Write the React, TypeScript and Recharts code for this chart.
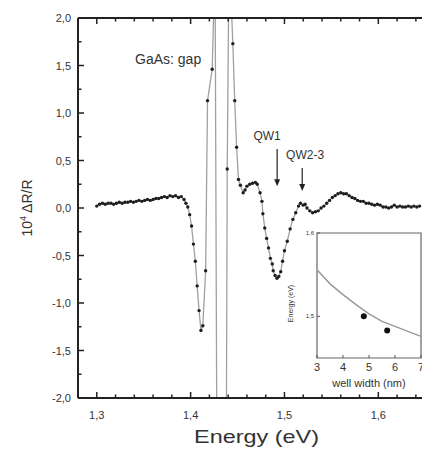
import { ComposedChart, Line, Scatter, XAxis, YAxis, ReferenceLine, ReferenceDot, ReferenceArea } from 'recharts';

// photoreflectance spectrum (energy in eV, 10^4 dR/R)
const energy = [
    1.300, 1.303, 1.306, 1.309, 1.312, 1.315, 1.318, 1.321, 1.324, 1.327,
    1.330, 1.333, 1.336, 1.339, 1.342, 1.345, 1.348, 1.351, 1.354, 1.357,
    1.360, 1.363, 1.366, 1.369, 1.372, 1.375, 1.378, 1.381, 1.384, 1.387,
    1.390, 1.393, 1.395, 1.397, 1.399, 1.401, 1.403, 1.405, 1.407, 1.409,
    1.411, 1.413, 1.416, 1.418, 1.423, 1.426, 1.428, 1.438, 1.439, 1.441,
    1.445, 1.447, 1.449, 1.451, 1.453, 1.456, 1.458, 1.460, 1.463, 1.466,
    1.469, 1.471, 1.474, 1.476, 1.477, 1.479, 1.481, 1.483, 1.485, 1.487,
    1.488, 1.490, 1.492, 1.494, 1.496, 1.498, 1.500, 1.503, 1.506, 1.509,
    1.512, 1.515, 1.517, 1.520, 1.522, 1.524, 1.527, 1.530, 1.533, 1.536,
    1.539, 1.542, 1.545, 1.548, 1.551, 1.554, 1.557, 1.560, 1.563, 1.566,
    1.569, 1.572, 1.575, 1.578, 1.581, 1.584, 1.587, 1.590, 1.593, 1.596,
    1.599, 1.602, 1.605, 1.608, 1.611, 1.614, 1.617, 1.620, 1.623, 1.626,
    1.629, 1.632, 1.635, 1.638, 1.641, 1.644,
];
const signal = [
    0.02, 0.04, 0.05, 0.04, 0.05, 0.05, 0.04, 0.05, 0.06, 0.05,
    0.06, 0.06, 0.07, 0.06, 0.07, 0.08, 0.07, 0.08, 0.09, 0.08,
    0.09, 0.10, 0.10, 0.11, 0.12, 0.11, 0.13, 0.12, 0.13, 0.11,
    0.12, 0.09, 0.05, 0.01, -0.07, -0.19, -0.38, -0.56, -0.82, -1.08,
    -1.29, -1.24, -0.66, 1.13, 1.46, 2.6, -2.6, -2.6, 0.41, 2.7,
    1.73, 1.13, 0.64, 0.30, 0.24, 0.16, 0.19, 0.23, 0.25, 0.26,
    0.27, 0.25, 0.16, 0.07, -0.06, -0.21, -0.32, -0.42, -0.53, -0.59,
    -0.66, -0.71, -0.74, -0.72, -0.67, -0.56, -0.45, -0.35, -0.22, -0.12,
    -0.05, 0.02, 0.05, 0.03, 0.04, 0.00, -0.03, -0.05, -0.04, -0.03,
    0.00, 0.02, 0.05, 0.08, 0.11, 0.13, 0.15, 0.16, 0.15, 0.15,
    0.13, 0.11, 0.10, 0.08, 0.07, 0.07, 0.05, 0.05, 0.04, 0.03,
    0.04, 0.03, 0.01, 0.01, 0.00, 0.01, 0.03, 0.01, 0.02, 0.01,
    0.01, 0.02, 0.01, 0.02, 0.01, 0.02,
];

const xTicks = [1.30, 1.32, 1.34, 1.36, 1.38, 1.40, 1.42, 1.44, 1.46, 1.48, 1.50, 1.52, 1.54, 1.56, 1.58, 1.60, 1.62, 1.64];
const xMajor = [1.3, 1.4, 1.5, 1.6];
const yTicks = [-2, -1.75, -1.5, -1.25, -1, -0.75, -0.5, -0.25, 0, 0.25, 0.5, 0.75, 1, 1.25, 1.5, 1.75, 2];
const yMajor = [-2, -1.5, -1, -0.5, 0, 0.5, 1, 1.5, 2];
const xRange = [1.28, 1.654];
const yRange = [-2, 2];

// inset: transition energy vs well width
const wellWidth = [3.0, 3.5, 4.0, 4.5, 5.0, 5.5, 6.0, 6.5, 7.0];
const calcEnergy = [1.556, 1.539, 1.526, 1.514, 1.503, 1.494, 1.488, 1.482, 1.476];
const measWidth = [4.8, 5.7];
const measEnergy = [1.500, 1.483];
const insetXTicks = [3, 4, 5, 6, 7];
const insetYTicks = [1.5, 1.6];

const data = energy.map((e, i) => ({ e, v: signal[i] }));
const curve = wellWidth.map((w, i) => ({ w, en: calcEnergy[i] }));
const points = measWidth.map((w, i) => ({ w, en: measEnergy[i] }));

const FONT = '"Liberation Sans", Arial, sans-serif';
const FRAME = '#222222';
const TXT = '#333';

const fmt = (v: number) => v.toFixed(1).replace('.', ',');
const isIn = (v: number, list: number[]) => list.some(m => Math.abs(m - v) < 1e-6);

const BottomTick = (props: any) => {
    const { x, y, payload } = props;
    const major = isIn(payload.value, xMajor);
    return (
        <g>
            <line x1={x} y1={y} x2={x} y2={y - (major ? 6 : 3.5)} stroke={FRAME} strokeWidth={1.5} />
            {major && (
                <text x={x} y={y + 21} textAnchor="middle" fontSize={11} fontFamily={FONT} fill={TXT}>
                    {fmt(payload.value)}
                </text>
            )}
        </g>
    );
};

const TopTick = (props: any) => {
    const { x, y, payload } = props;
    const major = isIn(payload.value, xMajor);
    return <line x1={x} y1={y} x2={x} y2={y + (major ? 6 : 3.5)} stroke={FRAME} strokeWidth={1.5} />;
};

const LeftTick = (props: any) => {
    const { x, y, payload } = props;
    const major = isIn(payload.value, yMajor);
    return (
        <g>
            <line x1={x} y1={y} x2={x + (major ? 6 : 3.5)} y2={y} stroke={FRAME} strokeWidth={1.5} />
            {major && (
                <text x={x - 7} y={y + 4} textAnchor="end" fontSize={11} fontFamily={FONT} fill={TXT}>
                    {fmt(payload.value)}
                </text>
            )}
        </g>
    );
};

const RightTick = (props: any) => {
    const { x, y, payload } = props;
    const major = isIn(payload.value, yMajor);
    return <line x1={x} y1={y} x2={x - (major ? 6 : 3.5)} y2={y} stroke={FRAME} strokeWidth={1.5} />;
};

const XTitle = (props: any) => {
    const vb = props.viewBox || {};
    const w = vb.width ?? vb.upperWidth ?? 351;
    return (
        <text x={vb.x + w / 2 + 3} y={vb.y + 45} textAnchor="middle" fontSize={19} fontFamily={FONT} fill={TXT}
            textLength={125} lengthAdjust="spacingAndGlyphs">
            Energy (eV)
        </text>
    );
};

const YTitle = (props: any) => {
    const vb = props.viewBox || {};
    const h = vb.height ?? vb.upperWidth ?? 380;
    const cx = vb.x - 6;
    const cy = vb.y + h / 2;
    return (
        <text x={cx} y={cy} transform={`rotate(-90 ${cx} ${cy})`} textAnchor="middle" fontSize={14} fontFamily={FONT} fill={TXT}>
            10<tspan fontSize={9} dy={-6}>4</tspan><tspan dy={6}> ΔR/R</tspan>
        </text>
    );
};

const Arrowhead = (props: any) => {
    const { cx, cy } = props;
    return <path d={`M${cx - 3},${cy - 7} L${cx + 3},${cy - 7} L${cx},${cy} Z`} fill="#222" />;
};

const note = (label: string, size: number) => (props: any) => (
    <text x={props.cx} y={props.cy} textAnchor="middle" dominantBaseline="central" fontSize={size} fontFamily={FONT} fill={TXT}>
        {label}
    </text>
);

const InsetXTick = (props: any) => {
    const { x, y, payload } = props;
    return (
        <g>
            <line x1={x} y1={y} x2={x} y2={y - 3} stroke="#555" />
            <text x={x} y={y + 13} textAnchor="middle" fontSize={11} fontFamily={FONT} fill={TXT}>{payload.value}</text>
        </g>
    );
};

const InsetYTick = (props: any) => {
    const { x, y, payload } = props;
    return (
        <g>
            <line x1={x} y1={y} x2={x + 3} y2={y} stroke="#555" />
            <text x={x - 3} y={y + 2} textAnchor="end" fontSize={6} fontFamily={FONT} fill={TXT}>{fmt(payload.value)}</text>
        </g>
    );
};

const InsetXTitle = (props: any) => {
    const vb = props.viewBox || {};
    const w = vb.width ?? vb.upperWidth ?? 104;
    return (
        <text x={vb.x + w / 2} y={vb.y + 29} textAnchor="middle" fontSize={11} fontFamily={FONT} fill={TXT}>
            well width (nm)
        </text>
    );
};

const InsetYTitle = (props: any) => {
    const vb = props.viewBox || {};
    const h = vb.height ?? vb.upperWidth ?? 125;
    const cx = vb.x + 1;
    const cy = vb.y + h / 2 + 8;
    return (
        <text x={cx} y={cy} transform={`rotate(-90 ${cx} ${cy})`} textAnchor="middle" fontSize={7} fontFamily={FONT} fill={TXT}>
            Energy (eV)
        </text>
    );
};

export default function App() {
    return (
        <div style={{ position: 'relative', width: 430, height: 465, margin: -8 }}>
            <div style={{ position: 'absolute', left: 0, top: 0 }}>
                <ComposedChart width={430} height={465} data={data} margin={{ top: 10, right: 0, bottom: 37, left: 38 }}>
                    <XAxis dataKey="e" type="number" domain={xRange} allowDataOverflow ticks={xTicks} interval={0}
                        tick={<BottomTick />} tickLine={false} tickSize={0} tickMargin={0} height={30}
                        axisLine={{ stroke: FRAME, strokeWidth: 1.8 }} label={<XTitle />} />
                    <XAxis xAxisId="top" orientation="top" dataKey="e" type="number" domain={xRange} allowDataOverflow
                        ticks={xTicks} interval={0} tick={<TopTick />} tickLine={false} tickSize={0} tickMargin={0} height={8}
                        axisLine={{ stroke: FRAME, strokeWidth: 1.8 }} />
                    <YAxis type="number" domain={yRange} allowDataOverflow ticks={yTicks} interval={0}
                        tick={<LeftTick />} tickLine={false} tickSize={0} tickMargin={0} width={40}
                        axisLine={{ stroke: FRAME, strokeWidth: 1.8 }} label={<YTitle />} />
                    <YAxis yAxisId="right" orientation="right" type="number" domain={yRange} allowDataOverflow ticks={yTicks}
                        interval={0} tick={<RightTick />} tickLine={false} tickSize={0} tickMargin={0} width={1}
                        axisLine={{ stroke: FRAME, strokeWidth: 1.8 }} />
                    {/* frame drawn again as reference lines so the box shows for sure */}
                    <ReferenceLine x={xRange[0]} stroke={FRAME} strokeWidth={1.8} ifOverflow="visible" />
                    <ReferenceLine x={xRange[1]} stroke={FRAME} strokeWidth={1.8} ifOverflow="visible" />
                    <ReferenceLine y={yRange[0]} stroke={FRAME} strokeWidth={1.8} ifOverflow="visible" />
                    <ReferenceLine y={yRange[1]} stroke={FRAME} strokeWidth={1.8} ifOverflow="visible" />
                    <Line xAxisId="top" yAxisId="right" dataKey="v" stroke="none" dot={false} activeDot={false}
                        isAnimationActive={false} legendType="none" />
                    <Line dataKey="v" stroke="#a0a0a0" strokeWidth={1.3} isAnimationActive={false}
                        dot={{ r: 1.7, fill: '#1e1e1e', stroke: 'none', strokeWidth: 0 }} activeDot={false} />
                    <ReferenceDot x={1.376} y={1.57} r={0} shape={note('GaAs: gap', 14)} />
                    <ReferenceDot x={1.4815} y={0.76} r={0} shape={note('QW1', 12)} />
                    <ReferenceDot x={1.522} y={0.56} r={0} shape={note('QW2-3', 12)} />
                    <ReferenceLine segment={[{ x: 1.4922, y: 0.62 }, { x: 1.4922, y: 0.27 }]} stroke="#222" strokeWidth={1.2} />
                    <ReferenceDot x={1.4922} y={0.23} r={0} shape={<Arrowhead />} />
                    <ReferenceLine segment={[{ x: 1.5189, y: 0.42 }, { x: 1.5189, y: 0.22 }]} stroke="#222" strokeWidth={1.2} />
                    <ReferenceDot x={1.5189} y={0.18} r={0} shape={<Arrowhead />} />
                </ComposedChart>
            </div>
            <div style={{ position: 'absolute', left: 280, top: 225 }}>
                <ComposedChart width={150} height={175} margin={{ top: 8, right: 9, bottom: 17, left: 12 }}>
                    <XAxis dataKey="w" type="number" domain={[3, 7]} ticks={insetXTicks} interval={0} tick={<InsetXTick />}
                        tickLine={false} tickSize={0} tickMargin={0} height={25} axisLine={false} label={<InsetXTitle />} />
                    <YAxis dataKey="en" type="number" domain={[1.45, 1.6]} allowDataOverflow ticks={insetYTicks} interval={0}
                        tick={<InsetYTick />} tickLine={false} tickSize={0} tickMargin={0} width={25} axisLine={false}
                        label={<InsetYTitle />} />
                    <ReferenceArea x1={3} x2={7} y1={1.45} y2={1.6} fill="#fff" fillOpacity={1} stroke="#666" strokeWidth={1.2} />
                    <Line data={curve} dataKey="en" stroke="#9a9a9a" strokeWidth={1.5} dot={false} activeDot={false}
                        isAnimationActive={false} />
                    <Scatter data={points} dataKey="en" fill="#111" isAnimationActive={false}
                        shape={(p: any) => <circle cx={p.cx} cy={p.cy} r={3} fill="#111" />} />
                </ComposedChart>
            </div>
        </div>
    );
}
